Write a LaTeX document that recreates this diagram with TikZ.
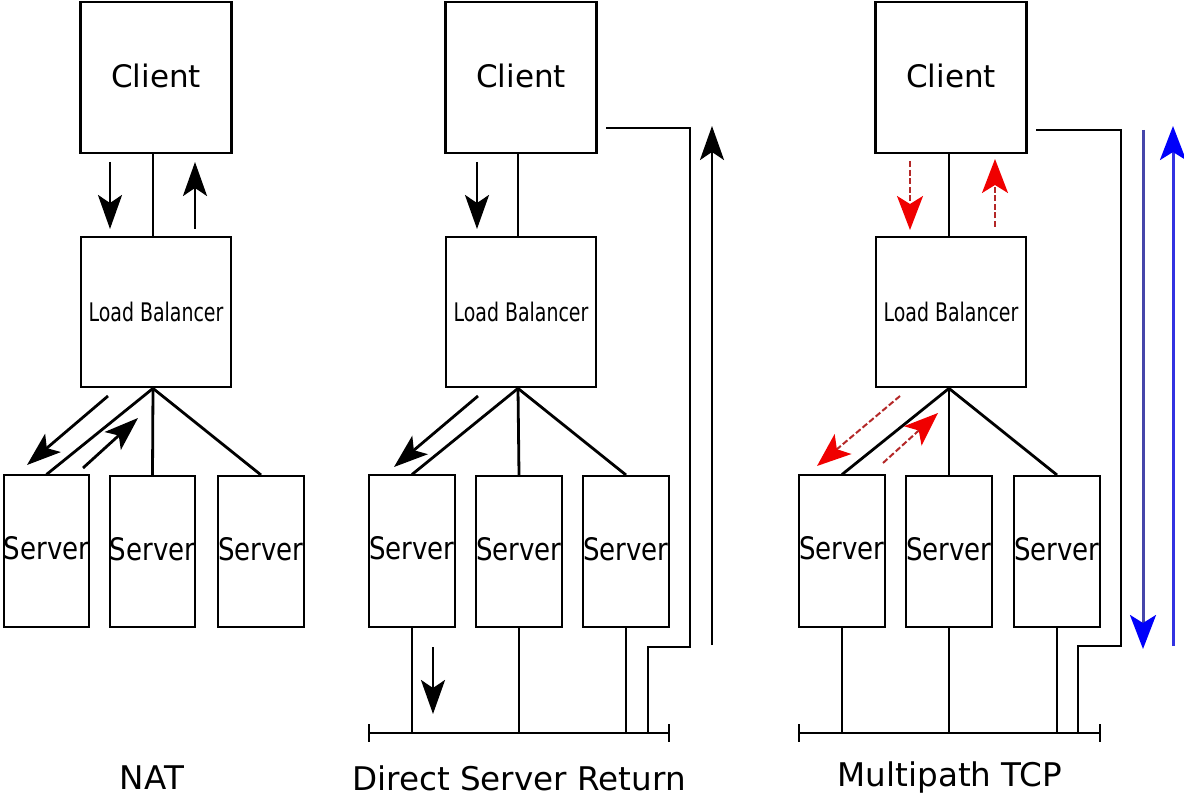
\documentclass[tikz,border=0pt]{standalone}
\usepackage{fontspec}
\setmainfont{DejaVu Sans}
\newfontfamily\narrowfont[FakeStretch=0.84]{DejaVu Sans}
\newfontfamily\lbfont[FakeStretch=0.74]{DejaVu Sans}
\usetikzlibrary{arrows.meta}

\definecolor{pathred}{RGB}{180,40,40}
\definecolor{headred}{RGB}{240,0,0}
\definecolor{slateblue}{RGB}{70,70,170}
\definecolor{lineblue}{RGB}{50,50,225}
\definecolor{headblue}{RGB}{0,0,250}

\begin{document}
\begin{tikzpicture}
    [
        x=0.5pt, y=-0.5pt,
        client node/.style={draw, line width=1.4pt, minimum width=75.5pt, minimum height=75.5pt, inner sep=0pt, font=\fontsize{15.5}{18}\selectfont},
        lb node/.style={draw, line width=1.4pt, minimum width=75pt, minimum height=75pt, inner sep=0pt, font=\lbfont\fontsize{12.8}{15}\selectfont},
        server node/.style={draw, line width=1pt, minimum width=42pt, minimum height=75.5pt, inner sep=0pt, font=\narrowfont\fontsize{15.5}{18}\selectfont},
        title node/.style={font=\fontsize{16.3}{19}\selectfont},
        link/.style={line width=1.4pt},
        flow/.style={line width=1.4pt, -{Stealth[length=17pt, width=12pt, inset=4pt]}},
        red flow/.style={line width=1pt, pathred, dash pattern=on 3pt off 1.3pt, -{Stealth[length=17pt, width=13pt, inset=4pt, color=headred]}},
        blue flow/.style={line width=1.5pt, -{Stealth[length=17pt, width=13pt, inset=4pt, color=headblue]}}
    ]

    \useasboundingbox (0,0) rectangle (1184,796);

    % NAT
    \node [client node] (c1) at (156, 77.5) {\raisebox{1.5pt}{Client}};
    \node [lb node] (lb1) at (156, 312) {Load Balancer};
    \node [server node] (s11) at (46.5, 551) {\raisebox{3pt}{Server}};
    \node [server node] (s12) at (152.5, 551.5) {\raisebox{3pt}{Server}};
    \node [server node] (s13) at (261, 551.5) {\raisebox{3pt}{Server}};

    \draw [link] ([xshift=-1.5pt]c1.south) -- ([xshift=-1.5pt]lb1.north);
    \draw [link] ([xshift=-1.5pt]lb1.south) -- (s11.north);
    \draw [link] ([xshift=-1.5pt]lb1.south) -- (s12.north);
    \draw [link] ([xshift=-1.5pt]lb1.south) -- (s13.north);

    \draw [flow] (110, 162) -- (110, 229);
    \draw [flow] (195, 229) -- (195, 162);
    \draw [flow] (108, 396) -- (27, 465);
    \draw [flow] (83, 468) -- (138, 418);

    \node [title node] (t1) at (152, 778) {NAT};

    % Direct Server Return
    \node [client node] (c2) at (521, 77.5) {\raisebox{1.5pt}{Client}};
    \node [lb node] (lb2) at (521, 312) {Load Balancer};
    \node [server node] (s21) at (412, 551) {\raisebox{3pt}{Server}};
    \node [server node] (s22) at (519, 551.5) {\raisebox{3pt}{Server}};
    \node [server node] (s23) at (626, 551.5) {\raisebox{3pt}{Server}};

    \draw [link] ([xshift=-1.5pt]c2.south) -- ([xshift=-1.5pt]lb2.north);
    \draw [link] ([xshift=-1.5pt]lb2.south) -- (s21.north);
    \draw [link] ([xshift=-1.5pt]lb2.south) -- (s22.north);
    \draw [link] ([xshift=-1.5pt]lb2.south) -- (s23.north);

    \coordinate (b2l) at (369, 733);
    \coordinate (b2r) at (669, 733);
    \draw [link] (b2l) -- (b2r);
    \draw [link] ([yshift=4.5pt]b2l) -- ([yshift=-4.5pt]b2l);
    \draw [link] ([yshift=4.5pt]b2r) -- ([yshift=-4.5pt]b2r);
    \draw [link] (s21.south) -- (s21.south |- b2l);
    \draw [link] (s22.south) -- (s22.south |- b2l);
    \draw [link] (s23.south) -- (s23.south |- b2l);

    \coordinate (r2a) at (606, 128);
    \coordinate (r2b) at (690, 647);
    \coordinate (r2c) at (648, 733);
    \draw [link] (r2a) -| (r2b) -| (r2c);

    \draw [flow] (477, 162) -- (477, 229);
    \draw [flow] (478, 396) -- (394, 467);
    \draw [flow] (433, 647) -- (433, 714);
    \draw [flow] (712, 645) -- (712, 126);

    \node [title node] (t2) at (519, 778) {Direct Server Return};

    % Multipath TCP
    \node [client node] (c3) at (951, 77.5) {\raisebox{1.5pt}{Client}};
    \node [lb node] (lb3) at (951, 312) {Load Balancer};
    \node [server node] (s31) at (842, 551) {\raisebox{3pt}{Server}};
    \node [server node] (s32) at (949, 551.5) {\raisebox{3pt}{Server}};
    \node [server node] (s33) at (1057, 551.5) {\raisebox{3pt}{Server}};

    \draw [link] ([xshift=-1pt]c3.south) -- ([xshift=-1pt]lb3.north);
    \draw [link] ([xshift=-1pt]lb3.south) -- (s31.north);
    \draw [link] ([xshift=-1pt]lb3.south) -- (s32.north);
    \draw [link] ([xshift=-1pt]lb3.south) -- (s33.north);

    \coordinate (b3l) at (799, 733);
    \coordinate (b3r) at (1100, 733);
    \draw [link] (b3l) -- (b3r);
    \draw [link] ([yshift=4.5pt]b3l) -- ([yshift=-4.5pt]b3l);
    \draw [link] ([yshift=4.5pt]b3r) -- ([yshift=-4.5pt]b3r);
    \draw [link] (s31.south) -- (s31.south |- b3l);
    \draw [link] (s32.south) -- (s32.south |- b3l);
    \draw [link] (s33.south) -- (s33.south |- b3l);

    \coordinate (r3a) at (1036, 130);
    \coordinate (r3b) at (1121, 646);
    \coordinate (r3c) at (1078, 733);
    \draw [link] (r3a) -| (r3b) -| (r3c);

    \draw [red flow] (910, 161) -- (910, 230);
    \draw [red flow] (995, 227) -- (995, 159);
    \draw [red flow] (900, 396) -- (817, 466);
    \draw [red flow] (883, 463) -- (938, 413);

    \draw [blue flow, slateblue] (1143, 130) -- (1143, 649);
    \draw [blue flow, lineblue] (1173, 646) -- (1173, 126);

    \node [title node] (t3) at (950, 778) {Multipath TCP};
\end{tikzpicture}
\end{document}
